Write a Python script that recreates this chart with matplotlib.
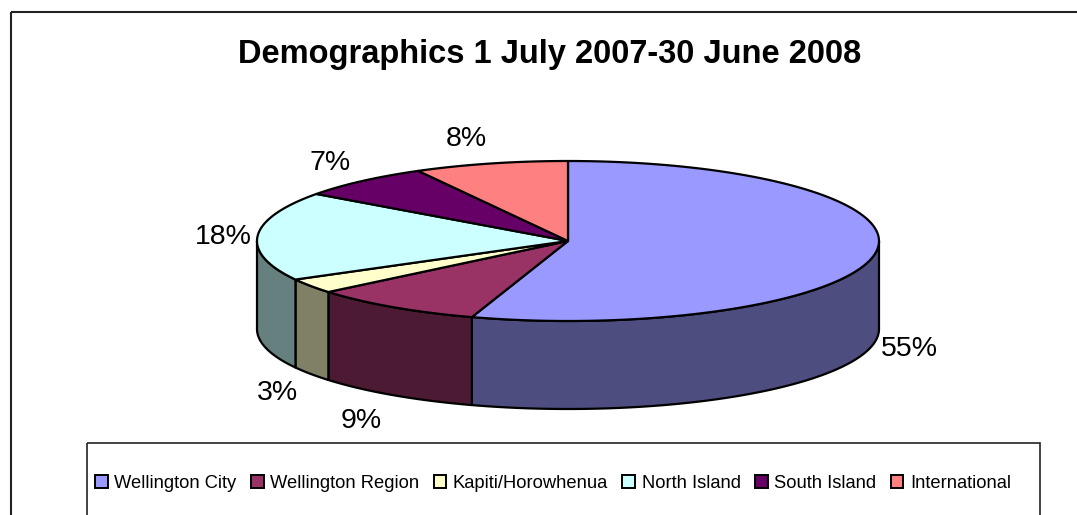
import numpy as np
import matplotlib
matplotlib.use("Agg")
import matplotlib.pyplot as plt
from matplotlib.patches import Polygon, Patch, Rectangle

plt.rcParams['font.family'] = ['Liberation Sans', 'DejaVu Sans']

# ---- data ----
title = "Demographics 1 July 2007-30 June 2008"
categories = ["Wellington City", "Wellington Region", "Kapiti/Horowhenua",
              "North Island", "South Island", "International"]
values = [55, 9, 3, 18, 7, 8]
top_colors = ["#9999FF", "#993366", "#FFFFCC", "#CCFFFF", "#660066", "#FF8080"]

W, H = 1077, 515
fig = plt.figure(figsize=(W / 100, H / 100), dpi=100)
ax = fig.add_axes([0, 0, 1, 1])
ax.set_xlim(0, W)
ax.set_ylim(H, 0)
ax.axis('off')

# outer chart frame
ax.add_patch(Rectangle((11, 12), W + 20, H + 20, fill=False, edgecolor='#222222', lw=1.5, zorder=0))

# 3D pie geometry (pixel space)
cx, cy, a, b, depth = 568, 241, 311, 80, 88

def shade(c, f=0.5):
    r, g, bb = matplotlib.colors.to_rgb(c)
    return (r * f, g * f, bb * f)

def ell(t):
    t = np.radians(t)
    return cx + a * np.cos(t), cy - b * np.sin(t)

total = float(sum(values))
starts, ends = [], []
ang = 90.0
for v in values:
    starts.append(ang)
    ang -= v / total * 360.0
    ends.append(ang)

LW = 1.6
# side walls (front half only: angles in [-180, 0])
for s, e, c in zip(starts, ends, top_colors):
    hi, lo = min(s, 0.0), max(e, -180.0)
    if hi <= lo:
        continue
    ts = np.linspace(hi, lo, 80)
    xs, ys = ell(ts)
    px = np.concatenate([xs, xs[::-1]])
    py = np.concatenate([ys, ys[::-1] + depth])
    ax.add_patch(Polygon(np.column_stack([px, py]), closed=True, facecolor=shade(c),
                         edgecolor='black', lw=LW, zorder=2, joinstyle='round'))

# tops
for s, e, c in zip(starts, ends, top_colors):
    ts = np.linspace(s, e, 120)
    xs, ys = ell(ts)
    px = np.concatenate([[cx], xs])
    py = np.concatenate([[cy], ys])
    ax.add_patch(Polygon(np.column_stack([px, py]), closed=True, facecolor=c,
                         edgecolor='black', lw=LW, zorder=3, joinstyle='round'))

# labels
for s, e, v in zip(starts, ends, values):
    m = (s + e) / 2
    x0, y0 = ell(m)
    sm = np.sin(np.radians(m))
    if sm < 0:
        y0 = y0 + depth
    dx, dy = ell(m)[0] - cx, ell(m)[1] - cy
    n = np.hypot(dx, dy)
    lx = x0 + 34 * dx / n
    ly = y0 - 28 * sm + 3
    ax.text(lx, ly, f"{v}%", fontsize=20.5, ha='center', va='center', zorder=5)

# title
ax.text(550, 54, title, fontsize=23.5, fontweight='bold', ha='center', va='center')

# legend box
ax.add_patch(Rectangle((87, 443), 953, 100, fill=False, edgecolor='#222222', lw=1.2, zorder=1))
handles = [Patch(facecolor=c, edgecolor='black', lw=1.4) for c in top_colors]
fig.legend(handles, categories, loc='center', bbox_to_anchor=(553 / W, 1 - 483 / H),
           ncol=6, frameon=False, fontsize=13.2, handlelength=0.7, handleheight=0.7,
           handletextpad=0.35, columnspacing=0.78, borderpad=0)

fig.savefig("out.png", dpi=100)
